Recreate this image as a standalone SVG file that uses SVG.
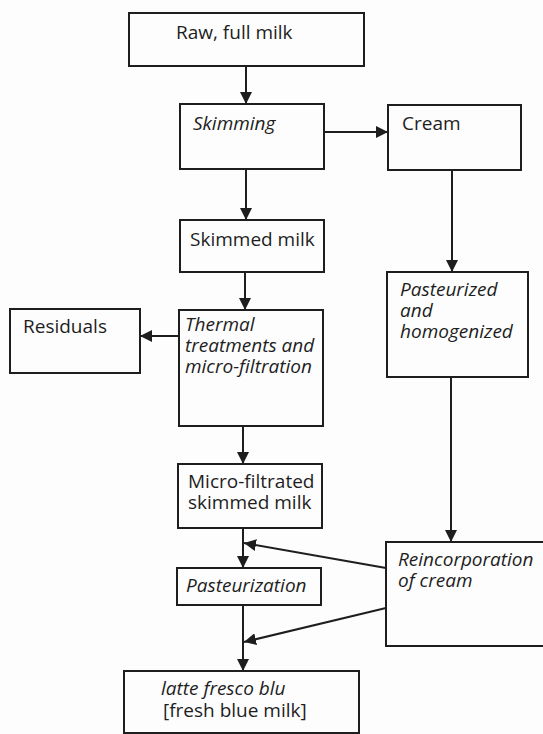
<svg xmlns="http://www.w3.org/2000/svg" width="543" height="734" viewBox="0 0 543 734">
  <style>
    .box { fill: none; stroke: #1e1e1e; stroke-width: 2; }
    .lbl { font-family: "Open Sans", "Noto Sans", sans-serif; font-size: 19px; fill: #1e1e1e; }
    .it { font-style: italic; }
    .wire { fill: none; stroke: #1e1e1e; stroke-width: 2; }
  </style>
  <defs>
    <marker id="arrow" viewBox="0 0 12 12" refX="12" refY="6" markerWidth="12" markerHeight="12" markerUnits="userSpaceOnUse" orient="auto">
      <path d="M0,0 L12,6 L0,12 Z" fill="#1e1e1e"/>
    </marker>
  </defs>
  <rect width="543" height="734" fill="#fdfdfd"/>

  <g id="raw-milk">
    <rect class="box" x="129" y="13" width="235" height="53"/>
    <text class="lbl" x="176" y="39">Raw, full milk</text>
  </g>
  <g id="skimming">
    <rect class="box" x="180" y="104" width="144" height="65"/>
    <text class="lbl it" x="193" y="130">Skimming</text>
  </g>
  <g id="cream">
    <rect class="box" x="388" y="105" width="133" height="65"/>
    <text class="lbl" x="402" y="130">Cream</text>
  </g>
  <g id="skimmed-milk">
    <rect class="box" x="180" y="220" width="144" height="52"/>
    <text class="lbl" x="190" y="246">Skimmed milk</text>
  </g>
  <g id="pasteurized-homogenized">
    <rect class="box" x="387" y="272" width="141" height="105"/>
    <text class="lbl it" x="400" y="296">Pasteurized</text>
    <text class="lbl it" x="400" y="317">and</text>
    <text class="lbl it" x="400" y="338">homogenized</text>
  </g>
  <g id="residuals">
    <rect class="box" x="10" y="309" width="130" height="64"/>
    <text class="lbl" x="23" y="333">Residuals</text>
  </g>
  <g id="thermal">
    <rect class="box" x="179" y="310" width="144" height="116"/>
    <text class="lbl it" x="185" y="331">Thermal</text>
    <text class="lbl it" x="185" y="352">treatments and</text>
    <text class="lbl it" x="185" y="373">micro-filtration</text>
  </g>
  <g id="micro-filtrated">
    <rect class="box" x="178" y="464" width="144" height="64"/>
    <text class="lbl" x="188" y="488">Micro-filtrated</text>
    <text class="lbl" x="188" y="509">skimmed milk</text>
  </g>
  <g id="reincorporation">
    <!-- right side runs past the page edge -->
    <rect class="box" x="386" y="542" width="162" height="104"/>
    <text class="lbl it" x="398" y="566">Reincorporation</text>
    <text class="lbl it" x="398" y="587">of cream</text>
  </g>
  <g id="pasteurization">
    <rect class="box" x="177" y="568" width="144" height="37"/>
    <text class="lbl it" x="186" y="592">Pasteurization</text>
  </g>
  <g id="latte-fresco-blu">
    <rect class="box" x="124" y="671" width="235" height="62"/>
    <text class="lbl it" x="161" y="695">latte fresco blu</text>
    <text class="lbl" x="163" y="717">[fresh blue milk]</text>
  </g>

  <g id="connectors">
    <path class="wire" d="M246,66 V104" marker-end="url(#arrow)"/>
    <path class="wire" d="M324,132 H388" marker-end="url(#arrow)"/>
    <path class="wire" d="M246,169 V220" marker-end="url(#arrow)"/>
    <path class="wire" d="M452,170 V272" marker-end="url(#arrow)"/>
    <path class="wire" d="M245,272 V310" marker-end="url(#arrow)"/>
    <path class="wire" d="M179,336 H140" marker-end="url(#arrow)"/>
    <path class="wire" d="M243,426 V464" marker-end="url(#arrow)"/>
    <path class="wire" d="M451,377 V542" marker-end="url(#arrow)"/>
    <path class="wire" d="M243,528 V568" marker-end="url(#arrow)"/>
    <path class="wire" d="M386,568 L244,543" marker-end="url(#arrow)"/>
    <path class="wire" d="M243,605 V671" marker-end="url(#arrow)"/>
    <path class="wire" d="M386,608 L244,642" marker-end="url(#arrow)"/>
  </g>
</svg>
